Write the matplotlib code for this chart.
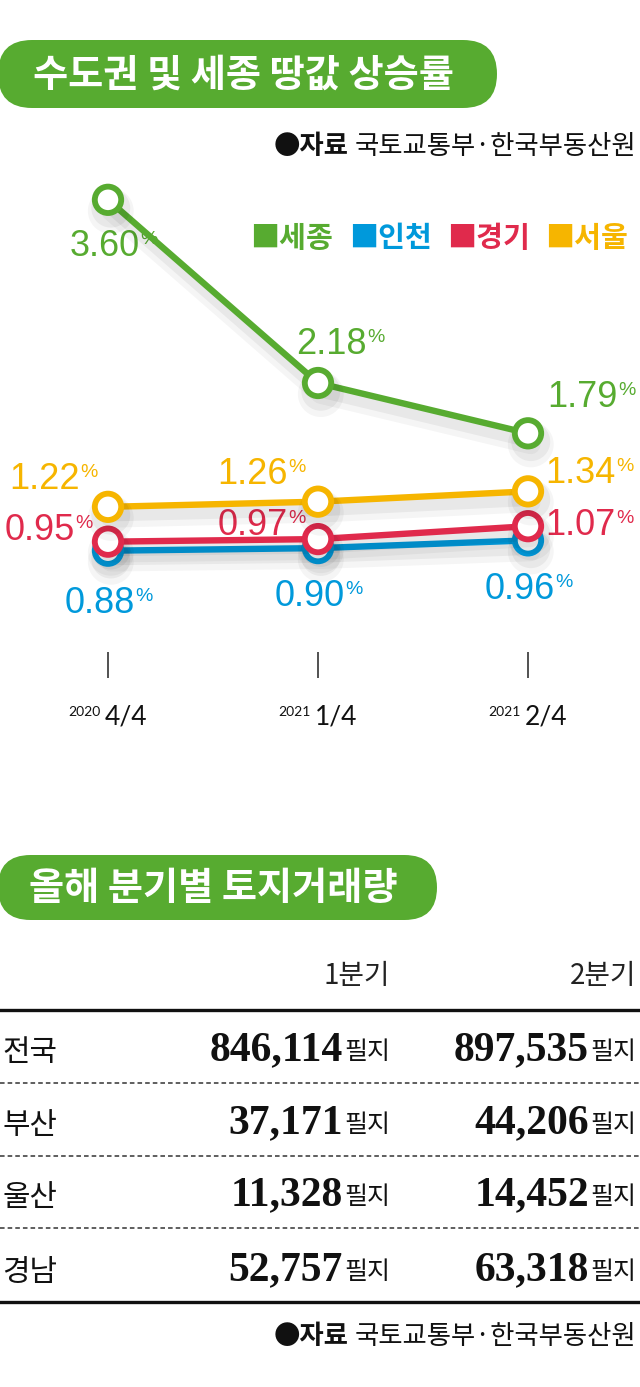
import matplotlib
matplotlib.use('Agg')
import matplotlib.pyplot as plt
from matplotlib.patches import FancyBboxPatch
from matplotlib.lines import Line2D
import matplotlib.patheffects as pe

# ---- data ----
quarters = ['4/4', '1/4', '2/4']
years = ['2020', '2021', '2021']
sejong = [3.60, 2.18, 1.79]
incheon = [0.88, 0.90, 0.96]
gyeonggi = [0.95, 0.97, 1.07]
seoul = [1.22, 1.26, 1.34]
legend_names = ['세종', '인천', '경기', '서울']

table_cols = ['1분기', '2분기']
table_regions = ['전국', '부산', '울산', '경남']
q1_parcels = [846114, 37171, 11328, 52757]
q2_parcels = [897535, 44206, 14452, 63318]

title1 = '수도권 및 세종 땅값 상승률'
title2 = '올해 분기별 토지거래량'
source = '국토교통부·한국부동산원'

GREEN = '#57ab30'
BLUE = '#0099db'
RED = '#e02a4c'
YELLOW = '#f6b500'

KR = ['Noto Sans CJK KR', 'DejaVu Sans']
NUM = ['Liberation Sans', 'DejaVu Sans']

W, H = 640, 1387
fig = plt.figure(figsize=(W / 100, H / 100), dpi=100)
fig.patch.set_facecolor('white')
T = fig.dpi_scale_trans
R = fig.canvas.get_renderer()


def ftext(x, y, s, **kw):
    # x, y in pixels from top-left
    return fig.text(x / 100, (H - y) / 100, s, transform=T, **kw)


def hline(x0, x1, y, **kw):
    fig.add_artist(Line2D([x0 / 100, x1 / 100], [(H - y) / 100] * 2, transform=T, **kw))


def pill(x0, y0, x1, y1, label):
    r = (y1 - y0) / 2
    p = FancyBboxPatch((x0 / 100, (H - y1) / 100), (x1 - x0) / 100, (y1 - y0) / 100,
                       boxstyle='round,pad=0,rounding_size=%f' % (r / 100),
                       transform=T, facecolor=GREEN, edgecolor='none')
    fig.add_artist(p)
    ftext((x0 + x1) / 2 - 4, (y0 + y1) / 2 + 1, label, family=KR, weight='bold',
          fontsize=27.5, color='white', ha='center', va='center')


def source_line(y):
    t = ftext(636, y, source, family=KR, fontsize=19, color='#111',
              ha='right', va='center')
    bb = t.get_window_extent(R)
    fig.text((bb.x0 - 6) / 100, (H - y) / 100, '●자료', transform=T, family=KR,
             weight='bold', fontsize=19, color='#111', ha='right', va='center')


# ---- part 1: line chart ----
pill(-2, 40, 497, 108, title1)
source_line(147)

leg_x = [250, 349, 447, 545]
for name, c, lx in zip(legend_names, [GREEN, BLUE, RED, YELLOW], leg_x):
    ftext(lx, 238, '■' + name, family=KR, weight='bold', fontsize=21,
          color=c, ha='left', va='center')

# axes placed so that 1 %p = 129 px and x step = 210 px
px_per_unit = 129.0
ax_top, ax_bot = 150, 678
ref_val, ref_px = 2.18, 383
ax = fig.add_axes([0, (H - ax_bot) / H, 1, (ax_bot - ax_top) / H])
ax.set_xlim(-108 / 210, (640 - 108) / 210)
ax.set_ylim(ref_val - (ax_bot - ref_px) / px_per_unit,
            ref_val + (ref_px - ax_top) / px_per_unit)
ax.patch.set_alpha(0)
for s in ax.spines.values():
    s.set_visible(False)
x = list(range(len(quarters)))
ax.set_xticks(x)
ax.set_xticklabels([])
ax.set_yticks([])
ax.tick_params(axis='x', direction='in', length=18.5, width=1.1, color='#222')

shadow = [pe.SimpleLineShadow(offset=(2, -8), shadow_color='black', alpha=0.04, linewidth=14),
          pe.SimpleLineShadow(offset=(2, -6), shadow_color='black', alpha=0.05, linewidth=9),
          pe.Normal()]

series = [(incheon, BLUE, 3), (gyeonggi, RED, 4), (seoul, YELLOW, 5), (sejong, GREEN, 6)]
for vals, c, z in series:
    ax.plot(x, vals, color=c, lw=4.6, marker='o', ms=19, mfc='white', mec=c,
            mew=4.2, zorder=z, path_effects=shadow, solid_capstyle='round')

# label offsets (px) of number's right edge / baseline relative to point
label_off = {
    'sejong': [(32, -56), (49, 29), (90, 26)],
    'seoul': [(-28, 18), (-30, 18), (88, 8)],
    'gyeonggi': [(-33, 2), (-30, 4), (88, -9)],
    'incheon': [(27, -62), (27, -58), (27, -59)],
}
for key, vals, c in [('sejong', sejong, GREEN), ('seoul', seoul, YELLOW),
                     ('gyeonggi', gyeonggi, RED), ('incheon', incheon, BLUE)]:
    for i, v in enumerate(vals):
        dx, dy = label_off[key][i]
        ax.annotate('%.2f' % v, xy=(i, v), xytext=(dx, dy), textcoords='offset pixels',
                    ha='right', va='baseline', family=NUM, fontsize=26, color=c,
                    zorder=2, annotation_clip=False)
        ax.annotate('%', xy=(i, v), xytext=(dx, dy + 12), textcoords='offset pixels',
                    ha='left', va='baseline', family=NUM, fontsize=14, color=c,
                    zorder=2, annotation_clip=False)

for i, (yr, q) in enumerate(zip(years, quarters)):
    ax.annotate(q, xy=(i, 0), xycoords=('data', 'axes fraction'), xytext=(-3, -47),
                textcoords='offset pixels', ha='left', va='baseline',
                family=['Lato', 'DejaVu Sans'], fontsize=19,
                color='#111', annotation_clip=False)
    ax.annotate(yr, xy=(i, 0), xycoords=('data', 'axes fraction'), xytext=(-7, -38),
                textcoords='offset pixels', ha='right', va='baseline',
                family=['Lato', 'DejaVu Sans'], fontsize=10,
                color='#111', annotation_clip=False)

# ---- part 2: table ----
pill(-2, 855, 437, 920, title2)

col_right = [390, 636]
for cx, name in zip(col_right, table_cols):
    ftext(cx, 976, name, family=KR, fontsize=20, color='#222', style='italic',
          ha='right', va='center', weight='light')

hline(0, 640, 1010, color='#111', lw=2.4)
row_base = [1060, 1133, 1205, 1280]
for k, (reg, a, b) in enumerate(zip(table_regions, q1_parcels, q2_parcels)):
    yb = row_base[k]
    ftext(2, yb + 1, reg, family=KR, fontsize=21.5, color='#111', ha='left', va='baseline')
    for cx, v in zip(col_right, [a, b]):
        u = ftext(cx, yb - 1, '필지', family=KR, fontsize=18, color='#111',
                  ha='right', va='baseline')
        ub = u.get_window_extent(R)
        fig.text((ub.x0 - 1) / 100, (H - yb) / 100, format(v, ','), transform=T,
                 family=['Liberation Serif', 'DejaVu Serif'], weight='bold',
                 fontsize=30, color='#111', ha='right', va='baseline')
    if k < len(table_regions) - 1:
        hline(0, 640, yb + 23, color='#333', lw=1.1, linestyle=(0, (3, 2)))
hline(0, 640, 1302, color='#111', lw=2.4)

source_line(1337)

fig.savefig('out.png', dpi=100)
